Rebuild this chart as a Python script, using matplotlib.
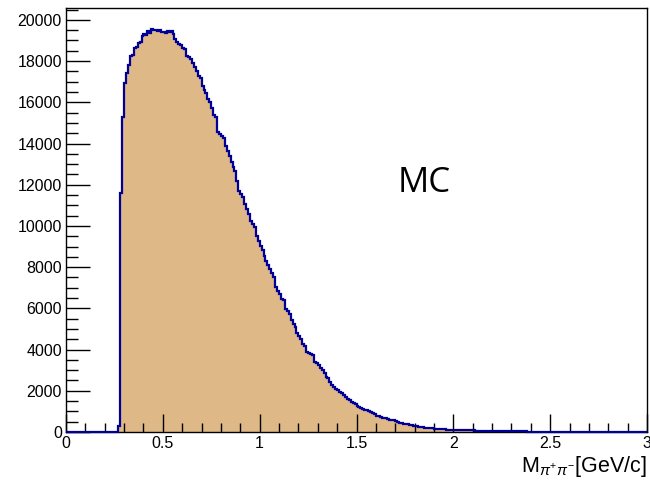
import numpy as np
import matplotlib
matplotlib.use("Agg")
import matplotlib.pyplot as plt
from matplotlib.ticker import MultipleLocator

# Histogram: 300 bins of 0.01 GeV from 0 to 3
bin_lo = 0.0
bin_hi = 3.0
n_bins = 300
first_filled_bin = 27  # bin starting at 0.27 GeV

# counts, bins starting at 0.27, 0.28, ...
counts_filled = [
    300, 11600, 15300, 16950, 17400, 17800, 18250, 18300, 18650, 18700,      # 0.27-0.36
    18900, 18950, 19200, 19300, 19250, 19450, 19350, 19550, 19500, 19520,    # 0.37-0.46
    19450, 19500, 19400, 19420, 19350, 19450, 19400, 19450, 19300, 19070,    # 0.47-0.56
    18950, 18830, 18800, 18640, 18600, 18250, 18220, 18100, 17900, 17700,    # 0.57-0.66
    17500, 17300, 17200, 16800, 16600, 16450, 16150, 16000, 15700, 15400,    # 0.67-0.76
    15300, 14550, 14460, 14350, 14290, 13890, 13650, 13400, 13080, 12850,    # 0.77-0.86
    12680, 12200, 11710, 11550, 11390, 11070, 10800, 10590, 10260, 10100,    # 0.87-0.96
    9940, 9530, 9250, 9050, 8810, 8550, 8320, 8100, 7920, 7700,              # 0.97-1.06
    7520, 7030, 6850, 6710, 6470, 6390, 5990, 5850, 5740, 5420,              # 1.07-1.16
    5250, 5100, 4780, 4650, 4530, 4290, 4150, 3890, 3850, 3780,              # 1.17-1.26
    3730, 3400, 3350, 3240, 3100, 3000, 2880, 2680, 2600, 2430,              # 1.27-1.36
    2300, 2190, 2100, 2030, 1950, 1870, 1790, 1700, 1620, 1550,              # 1.37-1.46
    1480, 1390, 1340, 1280, 1220, 1170, 1120, 1080, 1060, 1000,              # 1.47-1.56
    950, 900, 860, 800, 760, 740, 700, 680, 660, 630,                        # 1.57-1.66
    600, 580, 560, 520, 480, 450, 430, 410, 390, 370,                        # 1.67-1.76
    350, 320, 310, 290, 270, 260, 240, 220, 210, 200,                        # 1.77-1.86
    190, 180, 170, 160, 150, 140, 135, 130, 125, 120,                        # 1.87-1.96
    115, 110, 105, 100, 98, 95, 92, 90, 86, 84,                              # 1.97-2.06
    82, 80, 78, 75, 72, 70, 68, 66, 64, 62,                                  # 2.07-2.16
    60, 58, 56, 55, 53, 51, 49, 47, 45, 43,                                  # 2.17-2.26
    41, 40, 38, 36, 34, 33, 31, 30, 28, 27,                                  # 2.27-2.36
    25, 24, 23, 22, 21, 20, 19, 18, 17, 16,                                  # 2.37-2.46
    15, 14, 13, 12, 12, 11, 10, 9, 9, 8,                                     # 2.47-2.56
    8, 7, 7, 6, 6, 5, 5, 5, 4, 4,                                            # 2.57-2.66
    4, 3, 3, 3, 3, 2, 2, 2, 2, 2,                                            # 2.67-2.76
    2, 2, 1, 1, 1, 1, 1, 1, 1, 1,                                            # 2.77-2.86
    1, 1, 1, 1, 1, 1, 1, 1, 1, 1, 1, 1, 1,                                   # 2.87-2.99
]

x_major_ticks = [0, 0.5, 1, 1.5, 2, 2.5, 3]
x_tick_labels = ["0", "0.5", "1", "1.5", "2", "2.5", "3"]
y_major_ticks = [0, 2000, 4000, 6000, 8000, 10000, 12000, 14000, 16000, 18000, 20000]
y_tick_labels = [str(v) for v in y_major_ticks]
y_max = 20600

x_label = r"M$_{\pi^{+}\pi^{-}}$[GeV/c]"
annotation = "MC"

fill_color = "#DEB887"
line_color = "#000099"

edges = np.linspace(bin_lo, bin_hi, n_bins + 1)
counts = np.zeros(n_bins)
counts[first_filled_bin:first_filled_bin + len(counts_filled)] = counts_filled[: n_bins - first_filled_bin]

plt.rcParams["font.family"] = ["Liberation Sans", "DejaVu Sans"]
plt.rcParams["mathtext.fontset"] = "custom"
plt.rcParams["mathtext.rm"] = "Liberation Sans"
plt.rcParams["mathtext.it"] = "Liberation Sans:italic"
plt.rcParams["mathtext.sf"] = "Liberation Sans"

fig = plt.figure(figsize=(6.5, 4.83), dpi=100)
ax = fig.add_axes([66 / 650, 1 - 432 / 483, (647 - 66) / 650, (432 - 7.5) / 483])

ax.stairs(counts, edges, fill=True, color=fill_color, linewidth=0)
ax.stairs(counts, edges, fill=False, color=line_color, linewidth=1.6, clip_on=False, zorder=3)

ax.set_xlim(bin_lo, bin_hi)
ax.set_ylim(0, y_max)

ax.set_xticks(x_major_ticks)
ax.set_xticklabels(x_tick_labels)
ax.set_yticks(y_major_ticks)
ax.set_yticklabels(y_tick_labels)
ax.xaxis.set_minor_locator(MultipleLocator(0.1))
ax.yaxis.set_minor_locator(MultipleLocator(500))

ax.tick_params(axis="both", which="both", direction="in", top=False, right=False,
               labelsize=11.5, width=1.0, color="black")
ax.tick_params(axis="x", which="major", length=13, pad=3)
ax.tick_params(axis="x", which="minor", length=6.5)
ax.tick_params(axis="y", which="major", length=17, pad=3)
ax.tick_params(axis="y", which="minor", length=8.5)

for s in ax.spines.values():
    s.set_linewidth(1.0)
    s.set_color("black")

ax.set_xlabel(x_label, fontsize=15.5, loc="right", labelpad=2)

ax.text(1.85, 12100, annotation, fontsize=25, family=["Open Sans", "DejaVu Sans"],
        ha="center", va="center", color="black")

fig.savefig("out.png", dpi=100)
